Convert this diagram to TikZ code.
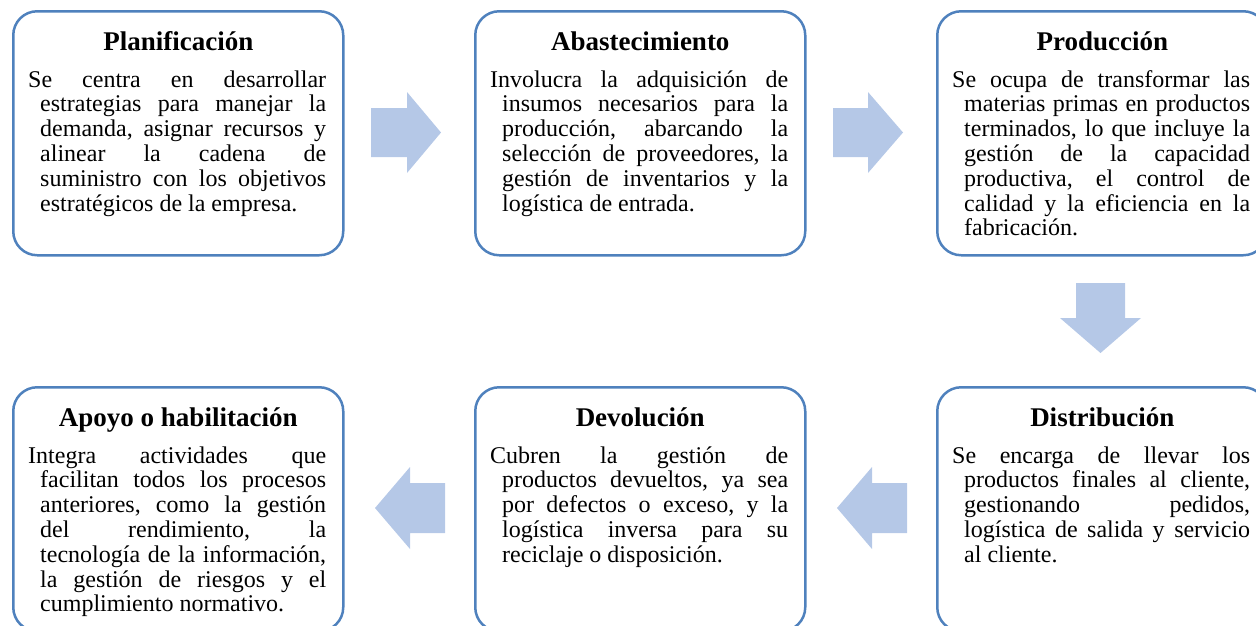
\documentclass[tikz,border=0pt]{standalone}
\usepackage{fontspec}
\setmainfont{Liberation Serif}
\usetikzlibrary{calc}
\definecolor{boxline}{RGB}{79,129,189}
\definecolor{arrowfill}{RGB}{181,200,231}
\tikzset{
  stagebox/.style={draw=boxline, line width=2.5pt, rounded corners=24pt, minimum width=330pt, minimum height=244pt, anchor=north west, inner sep=0pt},
  stagetitle/.style={anchor=base, inner sep=0pt, font=\fontsize{27}{30}\selectfont\bfseries},
  stagebody/.style={anchor=base west, inner sep=0pt},
  blockarrow/.style={fill=arrowfill, draw=none}
}
\newcommand{\stagetext}[1]{\begin{minipage}[t]{298pt}\fontsize{24}{24.8}\selectfont\hyphenpenalty=10000\hangindent=12pt\hangafter=1 #1\par\end{minipage}}
\begin{document}
\begin{tikzpicture}[x=1pt,y=-1pt]
\useasboundingbox (0,0) rectangle (1256,625);
% boxes
\node[stagebox] (b1) at (12,10) {};
\node[stagebox] (b2) at (474,10) {};
\node[stagebox] (b3) at (936,10) {};
\node[stagebox] (b4) at (936,386) {};
\node[stagebox] (b5) at (474,386) {};
\node[stagebox] (b6) at (12,386) {};
% titles
\node[stagetitle] (t1) at ($(b1.north)+(0,40)$) {Planificación};
\node[stagetitle] (t2) at ($(b2.north)+(0,40)$) {Abastecimiento};
\node[stagetitle] (t3) at ($(b3.north)+(0,40)$) {Producción};
\node[stagetitle] (t4) at ($(b4.north)+(0,40)$) {Distribución};
\node[stagetitle] (t5) at ($(b5.north)+(0,40)$) {Devolución};
\node[stagetitle] (t6) at ($(b6.north)+(0,40)$) {Apoyo o habilitación};
% bodies
\node[stagebody] (d1) at ($(b1.north west)+(16,77)$) {\stagetext{Se~centra~en~desarrollar\linebreak estrategias~para~manejar~la\linebreak demanda,~asignar~recursos~y\linebreak alinear~la~cadena~de\linebreak suministro~con~los~objetivos\linebreak estratégicos~de~la~empresa.}};
\node[stagebody] (d2) at ($(b2.north west)+(16,77)$) {\stagetext{Involucra~la~adquisición~de\linebreak insumos~necesarios~para~la\linebreak producción,~abarcando~la\linebreak selección~de~proveedores,~la\linebreak gestión~de~inventarios~y~la\linebreak logística~de~entrada.}};
\node[stagebody] (d3) at ($(b3.north west)+(16,77)$) {\stagetext{Se~ocupa~de~transformar~las\linebreak materias~primas~en~productos\linebreak terminados,~lo~que~incluye~la\linebreak gestión~de~la~capacidad\linebreak productiva,~el~control~de\linebreak calidad~y~la~eficiencia~en~la\linebreak fabricación.}};
\node[stagebody] (d4) at ($(b4.north west)+(16,77)$) {\stagetext{Se~encarga~de~llevar~los\linebreak productos~finales~al~cliente,\linebreak gestionando~pedidos,\linebreak logística~de~salida~y~servicio\linebreak al~cliente.}};
\node[stagebody] (d5) at ($(b5.north west)+(16,77)$) {\stagetext{Cubren~la~gestión~de\linebreak productos~devueltos,~ya~sea\linebreak por~defectos~o~exceso,~y~la\linebreak logística~inversa~para~su\linebreak reciclaje~o~disposición.}};
\node[stagebody] (d6) at ($(b6.north west)+(16,77)$) {\stagetext{Integra~actividades~que\linebreak facilitan~todos~los~procesos\linebreak anteriores,~como~la~gestión\linebreak del~rendimiento,~la\linebreak tecnología~de~la~información,\linebreak la~gestión~de~riesgos~y~el\linebreak cumplimiento~normativo.}};
% block arrows
\fill[blockarrow] (371,108) -- (407,108) -- (407,92) -- (441,132.5) -- (407,173) -- (407,157) -- (371,157) -- cycle;
\fill[blockarrow] (833,108) -- (868,108) -- (868,92) -- (903,132.5) -- (868,173) -- (868,157) -- (833,157) -- cycle;
\fill[blockarrow] (1076,283) -- (1125,283) -- (1125,318) -- (1141,318) -- (1100.5,353) -- (1060,318) -- (1076,318) -- cycle;
\fill[blockarrow] (445,483) -- (410,483) -- (410,467) -- (375,508) -- (410,549) -- (410,533) -- (445,533) -- cycle;
\fill[blockarrow] (907,483) -- (872,483) -- (872,467) -- (837,508) -- (872,549) -- (872,533) -- (907,533) -- cycle;
\end{tikzpicture}
\end{document}
